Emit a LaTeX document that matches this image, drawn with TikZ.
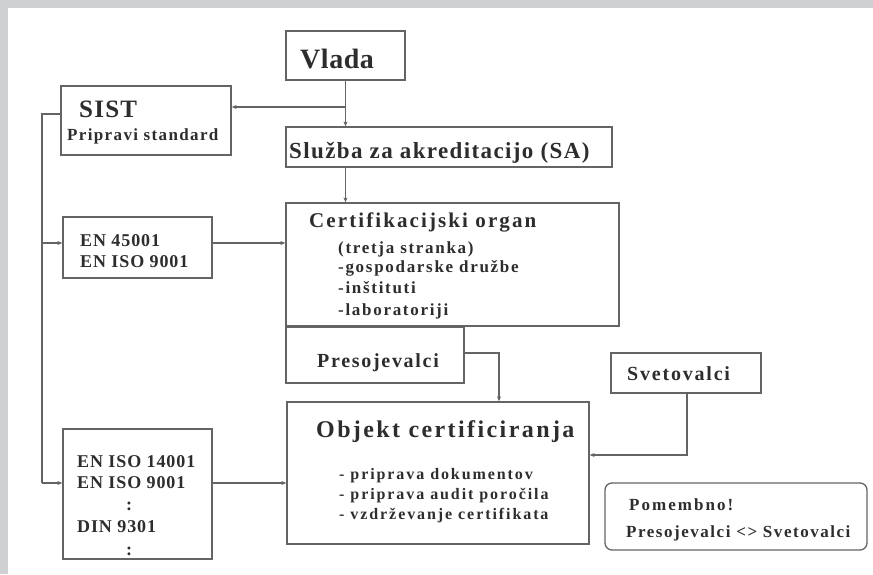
\documentclass[tikz,border=0pt]{standalone}
\usepackage{fontspec}
\usetikzlibrary{arrows.meta}
\newfontfamily\lsf{Liberation Serif}
\newcommand{\tf}[2]{\lsf\bfseries\fontsize{#1}{#1}\selectfont\addfontfeature{LetterSpace=#2}}
\definecolor{frame}{RGB}{207,208,210}
\definecolor{ln}{RGB}{100,100,100}
\definecolor{tx}{RGB}{45,45,45}
\tikzset{
  box/.style={draw=ln, line width=1.3pt, rectangle, inner sep=0pt},
  arr/.style={draw=ln, line width=1.2pt, -{Stealth[length=5pt,width=4pt]}},
  ln/.style={draw=ln, line width=1.2pt},
  lbl/.style={anchor=base west, inner sep=0pt, text=tx},
}
\begin{document}
\begin{tikzpicture}[x=1pt,y=-1pt]
\useasboundingbox (0,0) rectangle (873,574);
\fill[frame] (0,0) rectangle (873,574);
\fill[white] (8,8) rectangle (873,574);
% boxes
\node[box, minimum width=119pt, minimum height=49pt] (vlada) at (345.5,55.5) {};
\node[box, minimum width=326pt, minimum height=40pt] (sa) at (449,147) {};
\node[box, minimum width=170pt, minimum height=69pt] (sist) at (146,120.5) {};
\node[box, minimum width=333pt, minimum height=123pt] (cert) at (452.5,264.5) {};
\node[box, minimum width=178pt, minimum height=56pt] (presoj) at (375,355) {};
\node[box, minimum width=149pt, minimum height=61pt] (en1) at (137.5,247.5) {};
\node[box, minimum width=149pt, minimum height=130pt] (en2) at (137.5,494) {};
\node[box, minimum width=302pt, minimum height=142pt] (objekt) at (438,473) {};
\node[box, minimum width=150pt, minimum height=40pt] (svet) at (686,373) {};
\node[box, rounded corners=7pt, minimum width=262pt, minimum height=67pt] (pom) at (736,516.5) {};
% texts
\node[lbl, font=\tf{28}{2}] (tvlada) at (300,68) {Vlada};
\node[lbl, font=\tf{25}{5}] (tsist) at (79,117) {SIST};
\node[lbl, font=\tf{17}{8}] (tsist2) at (67,140) {Pripravi standard};
\node[lbl, font=\tf{23}{6}] (tsa) at (289,158) {Služba za akreditacijo (SA)};
\node[lbl, font=\tf{21}{10}] (tcert) at (309,227) {Certifikacijski organ};
\node[lbl, font=\tf{17}{10}] (tc1) at (338,253) {(tretja stranka)};
\node[lbl, font=\tf{17}{10}] (tc2) at (338,272) {-gospodarske družbe};
\node[lbl, font=\tf{17}{10}] (tc3) at (338,293) {-inštituti};
\node[lbl, font=\tf{17}{10}] (tc4) at (338,315) {-laboratoriji};
\node[lbl, font=\tf{20}{8.5}] (tpres) at (317,367) {Presojevalci};
\node[lbl, font=\tf{18}{5}] (te1) at (80,246) {EN 45001};
\node[lbl, font=\tf{18}{5}] (te2) at (80,267) {EN ISO 9001};
\node[lbl, font=\tf{18}{5}] (tf1) at (77,467) {EN ISO 14001};
\node[lbl, font=\tf{18}{5}] (tf2) at (77,488) {EN ISO 9001};
\node[lbl, font=\tf{18}{5}] (tf3) at (126,510) {:};
\node[lbl, font=\tf{18}{5}] (tf4) at (77,532) {DIN 9301};
\node[lbl, font=\tf{18}{5}] (tf5) at (126,555) {:};
\node[lbl, font=\tf{24}{10}] (tobj) at (316,437) {Objekt certificiranja};
\node[lbl, font=\tf{16}{12}] (to1) at (339,479) {- priprava dokumentov};
\node[lbl, font=\tf{16}{12}] (to2) at (339,499) {- priprava audit poročila};
\node[lbl, font=\tf{16}{12}] (to3) at (339,519) {- vzdrževanje certifikata};
\node[lbl, font=\tf{20}{9}] (tsvet) at (627,380) {Svetovalci};
\node[lbl, font=\tf{17}{12}] (tpom1) at (629,510) {Pomembno!};
\node[lbl, font=\tf{17}{9}] (tpom2) at (626,537) {Presojevalci <> Svetovalci};
% connectors
\coordinate (j1) at (346,107);
\coordinate (s1) at (42,114);
\coordinate (a1) at (42,243);
\coordinate (a2) at (42,483);
\coordinate (p1) at (499,353);
\coordinate (v1) at (687,455);
\draw[arr] (vlada.south) -- (vlada.south |- sa.north);
\draw[arr] (j1) -- (j1 -| sist.east);
\draw[arr] (sa.south -| vlada.south) -- (cert.north -| vlada.south);
\draw[ln] (s1 -| sist.west) -- (s1) -- (a2);
\draw[arr] (a1) -- (a1 -| en1.west);
\draw[arr] (a2) -- (a2 -| en2.west);
\draw[arr] (a1 -| en1.east) -- (a1 -| cert.west);
\draw[arr] (a2 -| en2.east) -- (a2 -| objekt.west);
\draw[arr] (p1 -| presoj.east) -- (p1) -- (p1 |- objekt.north);
\draw[arr] (v1 |- svet.south) -- (v1) -- (v1 -| objekt.east);
\end{tikzpicture}
\end{document}
